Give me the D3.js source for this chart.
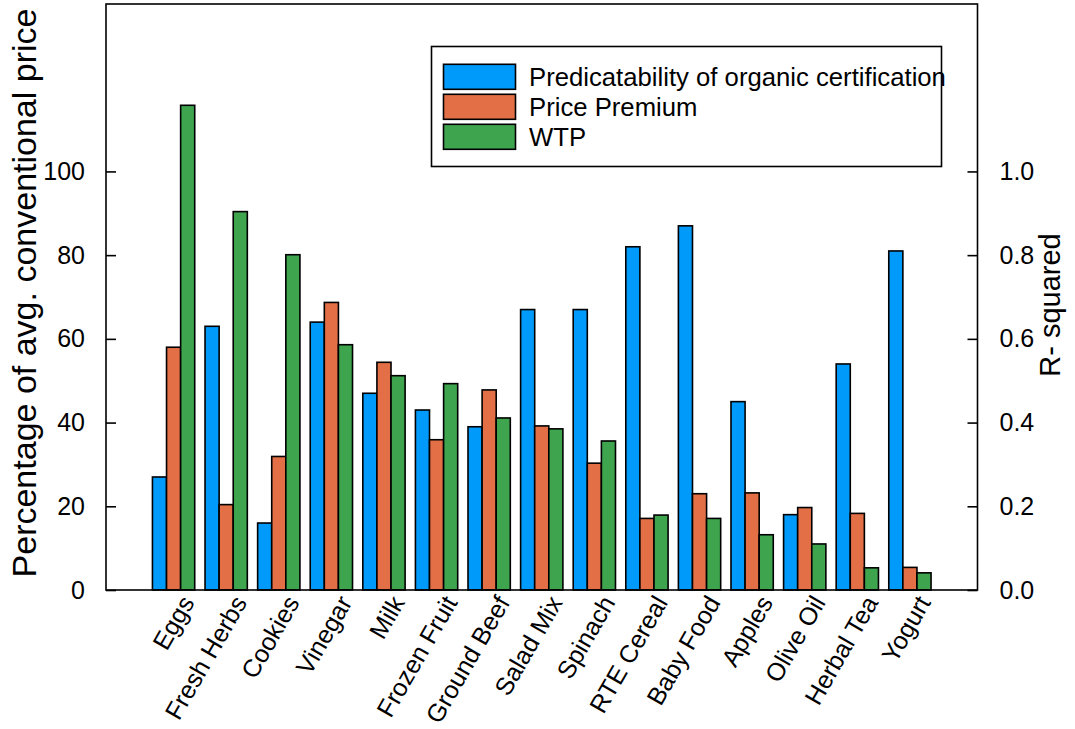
<!DOCTYPE html>
<html>
<head>
<meta charset="utf-8">
<script src="https://cdn.jsdelivr.net/npm/d3@7/dist/d3.min.js"></script>
<style>
  html, body { margin: 0; padding: 0; background: #fff; }
  svg { display: block; }
  text { font-family: "Liberation Sans", Arial, Helvetica, sans-serif; fill: #000; }
</style>
</head>
<body>
<svg id="chart" width="1075" height="729"></svg>
<script>
// Product categories along the x axis
const categories = ["Eggs", "Fresh Herbs", "Cookies", "Vinegar", "Milk", "Frozen Fruit",
  "Ground Beef", "Salad Mix", "Spinach", "RTE Cereal", "Baby Food", "Apples",
  "Olive Oil", "Herbal Tea", "Yogurt"];

// R-squared of organic certification (right axis)
const certificationR2 = [0.27, 0.63, 0.16, 0.64, 0.47, 0.43, 0.39, 0.67, 0.67, 0.82,
  0.87, 0.45, 0.18, 0.54, 0.81];

// Price premium, % of average conventional price (left axis)
const pricePremium = [58.0, 20.4, 31.9, 68.7, 54.4, 35.9, 47.8, 39.2, 30.3, 17.1,
  23.0, 23.2, 19.7, 18.3, 5.4];

// Willingness to pay, % of average conventional price (left axis)
const wtp = [115.8, 90.4, 80.1, 58.6, 51.2, 49.3, 41.1, 38.5, 35.6, 17.9,
  17.1, 13.2, 11.0, 5.3, 4.1];

const leftTicks = [0, 20, 40, 60, 80, 100];
const rightTicks = [0.0, 0.2, 0.4, 0.6, 0.8, 1.0];

const seriesNames = ["Predicatability of organic certification", "Price Premium", "WTP"];
const seriesColors = ["#009AFA", "#E36F47", "#3EA44E"];

const svg = d3.select("#chart");
const plot = { left: 106, right: 977.5, top: 4, bottom: 590 };

const x = d3.scaleBand()
  .domain(categories)
  .range([plot.left, plot.right])
  .paddingInner(0.196)
  .paddingOuter(0.883);

const xSub = d3.scaleBand()
  .domain([0, 1, 2])
  .range([0, x.bandwidth()]);

const yLeft = d3.scaleLinear().domain([0, 140]).range([plot.bottom, plot.top]);
const yRight = d3.scaleLinear().domain([0, 1.4]).range([plot.bottom, plot.top]);

// Bars: series 0 on the right axis, series 1 & 2 on the left axis
const rows = categories.map((c, i) => ({
  cat: c,
  vals: [
    { s: 0, y: yRight(certificationR2[i]) },
    { s: 1, y: yLeft(pricePremium[i]) },
    { s: 2, y: yLeft(wtp[i]) }
  ]
}));

const groups = svg.append("g").selectAll("g")
  .data(rows)
  .join("g")
  .attr("transform", d => `translate(${x(d.cat)},0)`);

groups.selectAll("rect")
  .data(d => d.vals)
  .join("rect")
  .attr("x", d => xSub(d.s))
  .attr("width", xSub.bandwidth())
  .attr("y", d => d.y)
  .attr("height", d => plot.bottom - d.y)
  .attr("fill", d => seriesColors[d.s])
  .attr("stroke", "#000")
  .attr("stroke-width", 1.6);

// Frame
svg.append("rect")
  .attr("x", plot.left).attr("y", plot.top)
  .attr("width", plot.right - plot.left).attr("height", plot.bottom - plot.top)
  .attr("fill", "none").attr("stroke", "#000").attr("stroke-width", 1.6);

// Left axis (ticks point inward)
const axL = d3.axisLeft(yLeft).tickValues(leftTicks).tickSizeInner(-10).tickSizeOuter(0)
  .tickPadding(21).tickFormat(d3.format("d"));
const gL = svg.append("g").attr("transform", `translate(${plot.left},0)`).call(axL);
gL.select(".domain").remove();
gL.selectAll("line").attr("stroke", "#000").attr("stroke-width", 1.6);
gL.selectAll("text").style("font-size", "25px").style("font-family", "'Liberation Sans', Arial, sans-serif");

// Right axis (ticks point inward)
const axR = d3.axisRight(yRight).tickValues(rightTicks).tickSizeInner(-10).tickSizeOuter(0)
  .tickPadding(22).tickFormat(d3.format(".1f"));
const gR = svg.append("g").attr("transform", `translate(${plot.right},0)`).call(axR);
gR.select(".domain").remove();
gR.selectAll("line").attr("stroke", "#000").attr("stroke-width", 1.6);
gR.selectAll("text").style("font-size", "25px").style("font-family", "'Liberation Sans', Arial, sans-serif");

// Category labels, rotated
svg.append("g").selectAll("text")
  .data(categories)
  .join("text")
  .attr("transform", d => `translate(${x(d) + x.bandwidth() / 2 + 14},${plot.bottom + 8}) rotate(-60)`)
  .attr("text-anchor", "end")
  .attr("dy", "0.35em")
  .style("font-size", "25px")
  .text(d => d);

// Axis titles
svg.append("text")
  .attr("transform", `translate(36,293) rotate(-90)`)
  .attr("text-anchor", "middle")
  .style("font-size", "34px")
  .text("Percentage of avg. conventional price");

svg.append("text")
  .attr("transform", `translate(1060,305) rotate(-90)`)
  .attr("text-anchor", "middle")
  .style("font-size", "29px")
  .text("R- squared");

// Legend
const legend = svg.append("g");
legend.append("rect")
  .attr("x", 431.5).attr("y", 46.5).attr("width", 510).attr("height", 120)
  .attr("fill", "#fff").attr("stroke", "#000").attr("stroke-width", 1.6);

const items = legend.selectAll("g.item")
  .data(seriesNames)
  .join("g")
  .attr("class", "item")
  .attr("transform", (d, i) => `translate(443.5,${64.3 + i * 30})`);

items.append("rect")
  .attr("width", 72).attr("height", 25)
  .attr("fill", (d, i) => seriesColors[i])
  .attr("stroke", "#000").attr("stroke-width", 1.6);

items.append("text")
  .attr("x", 85.5).attr("y", 12.5).attr("dy", "0.35em")
  .style("font-size", "25.7px")
  .text(d => d);
</script>
</body>
</html>
